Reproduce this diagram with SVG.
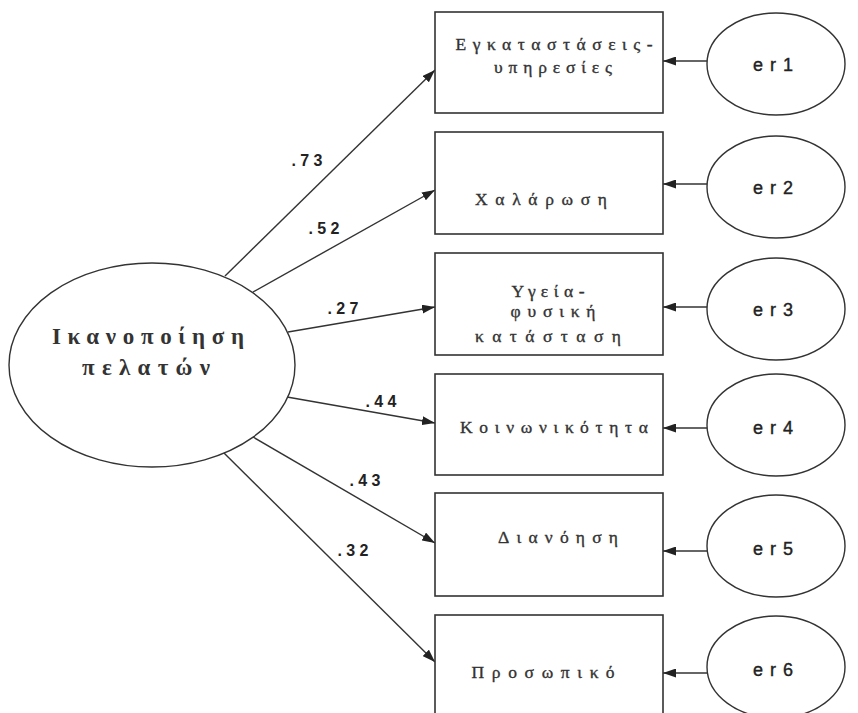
<svg xmlns="http://www.w3.org/2000/svg" width="858" height="713" viewBox="0 0 858 713">
<defs>
<marker id="ah" viewBox="0 0 13 9" refX="13" refY="4.5" markerWidth="13" markerHeight="9" markerUnits="userSpaceOnUse" orient="auto">
<path d="M0,0 L13,4.5 L0,9 Z" fill="#222"/>
</marker>
<style>
.box{fill:#fff;stroke:#333;stroke-width:1.6}
.ell{fill:#fff;stroke:#333;stroke-width:1.4}
.con{stroke:#333;stroke-width:1.4;fill:none;marker-end:url(#ah)}
.bt{font-family:"Liberation Serif","DejaVu Serif",serif;font-size:17.5px;fill:#333;stroke:#333;stroke-width:0.35;text-anchor:middle}
.lt{font-family:"Liberation Serif","DejaVu Serif",serif;font-size:23px;font-weight:bold;fill:#333;text-anchor:middle}
.er{font-family:"Liberation Sans","DejaVu Sans",sans-serif;font-size:18px;fill:#222;stroke:#222;stroke-width:0.4;text-anchor:middle}
.lb{font-family:"Liberation Sans","DejaVu Sans",sans-serif;font-size:16px;font-weight:bold;fill:#222;text-anchor:middle}
</style>
</defs>
<rect width="858" height="713" fill="#fff"/>
<g id="connectors">
<line class="con" x1="225" y1="276" x2="435" y2="70"/>
<line class="con" x1="253" y1="292" x2="435" y2="190"/>
<line class="con" x1="288" y1="332" x2="435" y2="307"/>
<line class="con" x1="287" y1="397" x2="435" y2="423"/>
<line class="con" x1="253" y1="437" x2="435" y2="543"/>
<line class="con" x1="224" y1="453" x2="435" y2="662"/>
<line class="con" x1="707" y1="61" x2="663" y2="61"/>
<line class="con" x1="707" y1="184" x2="663" y2="184"/>
<line class="con" x1="707" y1="307" x2="663" y2="307"/>
<line class="con" x1="707" y1="428" x2="663" y2="428"/>
<line class="con" x1="707" y1="551" x2="663" y2="551"/>
<line class="con" x1="707" y1="673" x2="663" y2="673"/>
<text class="lb" x="307" y="166" textLength="31" lengthAdjust="spacing">.73</text>
<text class="lb" x="324" y="234" textLength="31" lengthAdjust="spacing">.52</text>
<text class="lb" x="343" y="314" textLength="31" lengthAdjust="spacing">.27</text>
<text class="lb" x="381" y="407" textLength="31" lengthAdjust="spacing">.44</text>
<text class="lb" x="365" y="486" textLength="31" lengthAdjust="spacing">.43</text>
<text class="lb" x="353" y="556" textLength="31" lengthAdjust="spacing">.32</text>
</g>
<g id="satisfaction">
<ellipse class="ell" cx="152" cy="365" rx="143" ry="102"/>
<text class="lt" x="148" y="344" textLength="192" lengthAdjust="spacing">Ικανοποίηση</text>
<text class="lt" x="146" y="375" textLength="128" lengthAdjust="spacing">πελατών</text>
</g>
<g id="v1">
<rect class="box" x="435" y="12" width="228" height="101"/>
<text class="bt" x="554" y="50" textLength="197" lengthAdjust="spacing">Εγκαταστάσεις-</text>
<text class="bt" x="553" y="73" textLength="118" lengthAdjust="spacing">υπηρεσίες</text>
</g>
<g id="v2">
<rect class="box" x="435" y="132" width="228" height="102"/>
<text class="bt" x="541" y="205" textLength="132" lengthAdjust="spacing">Χαλάρωση</text>
</g>
<g id="v3">
<rect class="box" x="435" y="253" width="228" height="102"/>
<text class="bt" x="548" y="297" textLength="73" lengthAdjust="spacing">Υγεία-</text>
<text class="bt" x="553" y="317" textLength="85" lengthAdjust="spacing">φυσική</text>
<text class="bt" x="548" y="342" textLength="146" lengthAdjust="spacing">κατάσταση</text>
</g>
<g id="v4">
<rect class="box" x="435" y="374" width="228" height="101"/>
<text class="bt" x="554" y="433" textLength="188" lengthAdjust="spacing">Κοινωνικότητα</text>
</g>
<g id="v5">
<rect class="box" x="435" y="493" width="228" height="103"/>
<text class="bt" x="558" y="543" textLength="120" lengthAdjust="spacing">Διανόηση</text>
</g>
<g id="v6">
<rect class="box" x="435" y="615" width="228" height="110"/>
<text class="bt" x="543" y="678" textLength="143" lengthAdjust="spacing">Προσωπικό</text>
</g>
<g id="er1"><ellipse class="ell" cx="776" cy="64" rx="69" ry="51"/><text class="er" x="773" y="71" textLength="40" lengthAdjust="spacing">er1</text></g>
<g id="er2"><ellipse class="ell" cx="776" cy="187" rx="69" ry="51"/><text class="er" x="773" y="194" textLength="40" lengthAdjust="spacing">er2</text></g>
<g id="er3"><ellipse class="ell" cx="776" cy="309" rx="69" ry="51"/><text class="er" x="773" y="316" textLength="40" lengthAdjust="spacing">er3</text></g>
<g id="er4"><ellipse class="ell" cx="776" cy="425" rx="69" ry="51"/><text class="er" x="773" y="434" textLength="40" lengthAdjust="spacing">er4</text></g>
<g id="er5"><ellipse class="ell" cx="776" cy="546" rx="69" ry="51"/><text class="er" x="773" y="555" textLength="40" lengthAdjust="spacing">er5</text></g>
<g id="er6"><ellipse class="ell" cx="776" cy="667" rx="69" ry="51"/><text class="er" x="773" y="676" textLength="40" lengthAdjust="spacing">er6</text></g>
</svg>
